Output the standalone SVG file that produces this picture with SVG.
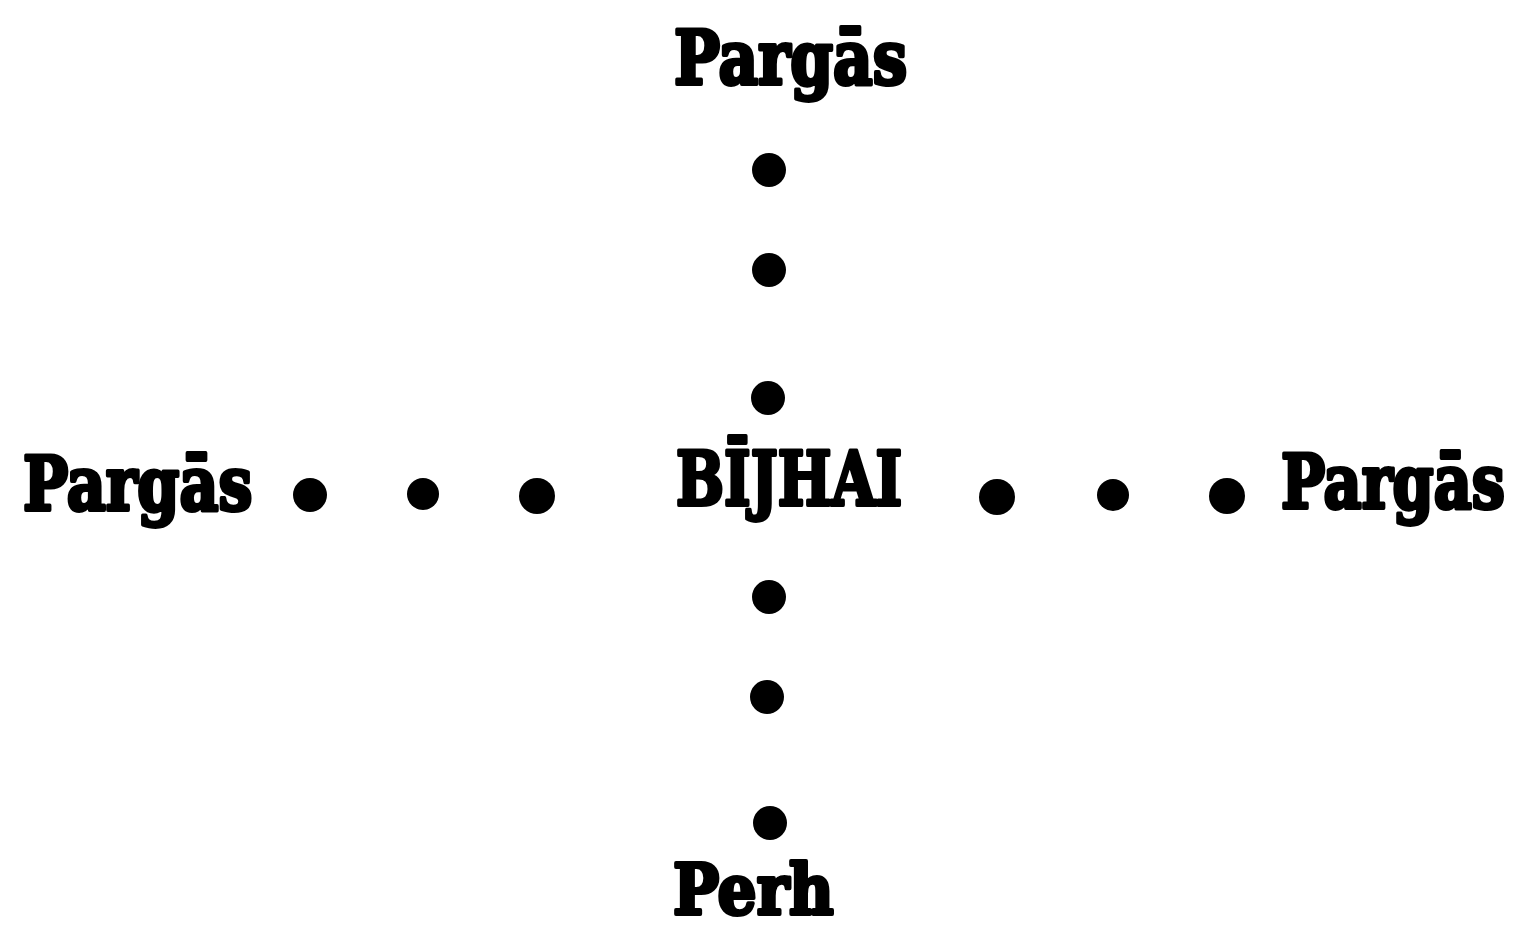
<svg xmlns="http://www.w3.org/2000/svg" width="1524" height="931" viewBox="0 0 1524 931">
  <style>
    .lbl { font-family: "DejaVu Serif", "Liberation Serif", serif; font-weight: bold; font-size: 74px; fill: #000; stroke: #000; stroke-width: 4; stroke-linejoin: round; }
    .dot { fill: #000; }
  </style>
  <rect width="1524" height="931" fill="#fff"/>
  <g id="connectors">
    <circle class="dot" cx="769" cy="170" r="17"/>
    <circle class="dot" cx="769" cy="270" r="17"/>
    <circle class="dot" cx="768" cy="398" r="17"/>
    <circle class="dot" cx="769" cy="597" r="17"/>
    <circle class="dot" cx="767" cy="697" r="17"/>
    <circle class="dot" cx="770" cy="823" r="17"/>
    <circle class="dot" cx="310" cy="495" r="17"/>
    <circle class="dot" cx="423" cy="494" r="16"/>
    <circle class="dot" cx="537" cy="496" r="18"/>
    <circle class="dot" cx="997" cy="497" r="18"/>
    <circle class="dot" cx="1113" cy="495" r="16"/>
    <circle class="dot" cx="1227" cy="496" r="18"/>
  </g>
  <g id="node-top" transform="translate(674,84) scale(0.78,1)">
    <text class="lbl" x="0" y="0" textLength="299" lengthAdjust="spacingAndGlyphs">Pargās</text>
  </g>
  <g id="node-left" transform="translate(23,510) scale(0.78,1)">
    <text class="lbl" x="0" y="0" textLength="294" lengthAdjust="spacingAndGlyphs">Pargās</text>
  </g>
  <g id="node-right" transform="translate(1281,508) scale(0.78,1)">
    <text class="lbl" x="0" y="0" textLength="287" lengthAdjust="spacingAndGlyphs">Pargās</text>
  </g>
  <g id="node-center" transform="translate(676,505) scale(0.78,1)">
    <text class="lbl" x="0" y="0" textLength="290" lengthAdjust="spacingAndGlyphs">BĪJHAI</text>
  </g>
  <g id="node-bottom" transform="translate(673,914) scale(0.78,1)">
    <text class="lbl" x="0" y="0" style="font-size:70px" textLength="206" lengthAdjust="spacingAndGlyphs">Perh</text>
  </g>
</svg>
